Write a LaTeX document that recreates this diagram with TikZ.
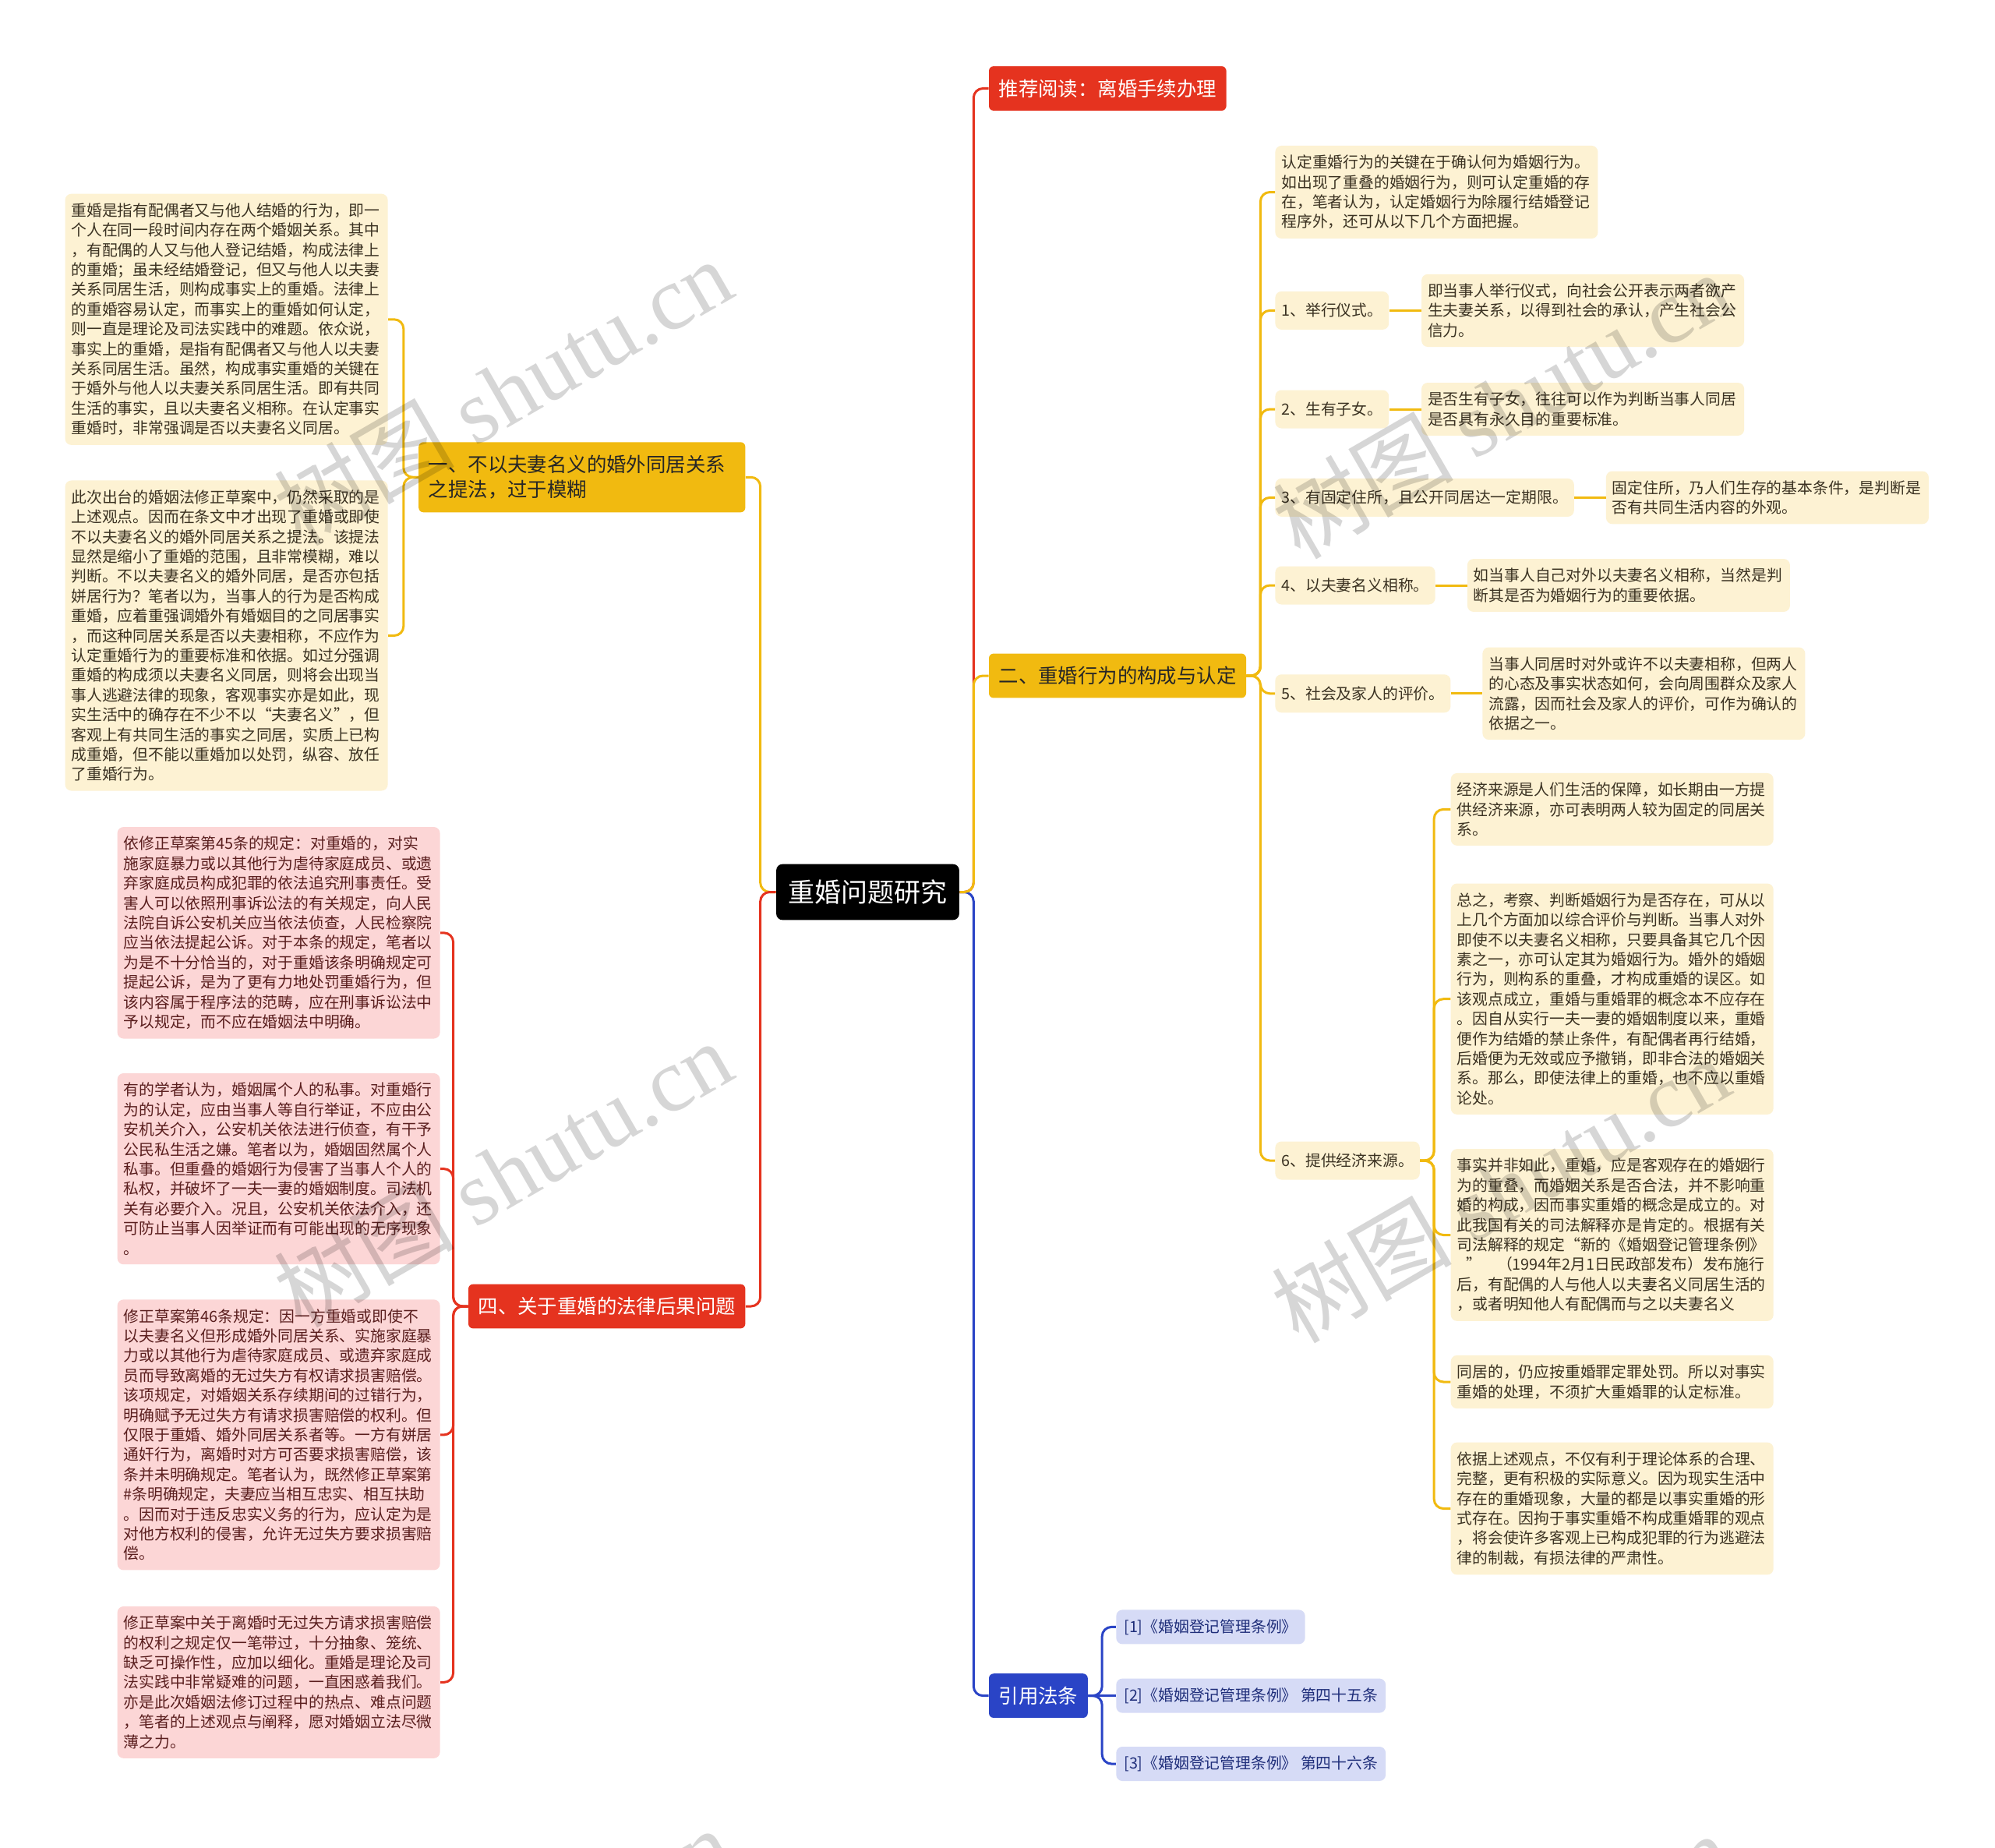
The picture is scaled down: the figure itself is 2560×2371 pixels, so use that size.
\documentclass[tikz,border=0pt]{standalone}
\usepackage{fontspec}
\setmainfont{Noto Sans CJK SC}
\newfontfamily\wmfont{Liberation Serif}
\usetikzlibrary{positioning}

\definecolor{redc}{HTML}{E5331F}
\definecolor{ylwc}{HTML}{F1BA10}
\definecolor{bluec}{HTML}{2A44C6}
\definecolor{cream}{HTML}{FDF2D3}
\definecolor{creamtext}{HTML}{3B3222}
\definecolor{pinkc}{HTML}{FCD6D6}
\definecolor{pinktext}{HTML}{5A1E1E}
\definecolor{refc}{HTML}{D6DBF6}
\definecolor{reftext}{HTML}{1F2E7A}

\newcommand\bodyfont{\fontsize{9.9}{12.7}\selectfont}
\newcommand\branchfont{\fontsize{12.7}{16.3}\selectfont}
\newcommand\rootfont{\fontsize{17}{20}\selectfont}

\begin{document}
\begin{tikzpicture}[x=0.5pt, y=-0.5pt,
  root/.style={fill=black, text=white, rounded corners=4pt, font=\rootfont, inner xsep=7.7pt, inner ysep=10pt},
  branch/.style={rounded corners=3pt, font=\branchfont, inner xsep=6.3pt, inner ysep=8.3pt},
  itemtag/.style={fill=cream, text=creamtext, rounded corners=4pt, font=\bodyfont, inner xsep=4pt, minimum height=24.5pt},
  note/.style={rounded corners=4pt, font=\bodyfont, text width=199pt, align=left, inner xsep=4pt, inner ysep=6pt},
  cnote/.style={note, fill=cream, text=creamtext},
  pnote/.style={note, fill=pinkc, text=pinktext},
  refitem/.style={fill=refc, text=reftext, rounded corners=4pt, font=\bodyfont, inner xsep=5pt, minimum height=22pt},
  link/.style={line width=1.5pt, rounded corners=6pt},
  wmk/.style={rotate=30, text=black, opacity=0.16, font=\fontsize{58}{58}\selectfont}]

  \useasboundingbox (0,0) rectangle (2560,2371);
  \fill[white] (0,0) rectangle (2560,2371);

  % Root
  \node[root] (root) at (1113.5,1144.5) {重婚问题研究};

  % Right branches
  \node[branch, fill=redc, text=white, anchor=west] (rec) at (1268.6,113.5) {推荐阅读：离婚手续办理};
  \node[branch, fill=ylwc, text=black!85, anchor=west] (b2) at (1268.6,867) {二、重婚行为的构成与认定};
  \node[branch, fill=bluec, text=white, anchor=west] (law) at (1268.6,2175.6) {引用法条};

  % Left branches
  \node[branch, fill=ylwc, text=black!85, anchor=east, text width=197pt, align=left] (b1) at (956.8,612.3)
    {一、不以夫妻名义的婚外同居关系\\之提法，过于模糊};
  \node[branch, fill=redc, text=white, anchor=east] (b4) at (956.8,1676) {四、关于重婚的法律后果问题};

  % Branch 2 items
  \node[cnote, anchor=west] (intro) at (1636,246.5)
    {认定重婚行为的关键在于确认何为婚姻行为。\\如出现了重叠的婚姻行为，则可认定重婚的存\\在，笔者认为，认定婚姻行为除履行结婚登记\\程序外，还可从以下几个方面把握。};
  \node[itemtag, anchor=west] (i1) at (1636,398.4) {1、举行仪式。};
  \node[itemtag, anchor=west] (i2) at (1636,525) {2、生有子女。};
  \node[itemtag, anchor=west] (i3) at (1636,638.4) {3、有固定住所，且公开同居达一定期限。};
  \node[itemtag, anchor=west] (i4) at (1636,751) {4、以夫妻名义相称。};
  \node[itemtag, anchor=west] (i5) at (1636,889.8) {5、社会及家人的评价。};
  \node[itemtag, anchor=west] (i6) at (1636,1489) {6、提供经济来源。};

  \node[cnote, anchor=west] (d1) at (1823.7,398.4)
    {即当事人举行仪式，向社会公开表示两者欲产\\生夫妻关系，以得到社会的承认，产生社会公\\信力。};
  \node[cnote, anchor=west] (d2) at (1823.7,525)
    {是否生有子女，往往可以作为判断当事人同居\\是否具有永久目的重要标准。};
  \node[cnote, anchor=west] (d3) at (2060.5,638.4)
    {固定住所，乃人们生存的基本条件，是判断是\\否有共同生活内容的外观。};
  \node[cnote, anchor=west] (d4) at (1882.5,751)
    {如当事人自己对外以夫妻名义相称，当然是判\\断其是否为婚姻行为的重要依据。};
  \node[cnote, anchor=west] (d5) at (1902,889.8)
    {当事人同居时对外或许不以夫妻相称，但两人\\的心态及事实状态如何，会向周围群众及家人\\流露，因而社会及家人的评价，可作为确认的\\依据之一。};

  % Item 6 notes
  \node[cnote, anchor=west] (e1) at (1861.3,1038.4)
    {经济来源是人们生活的保障，如长期由一方提\\供经济来源，亦可表明两人较为固定的同居关\\系。};
  \node[cnote, anchor=west] (e2) at (1861.3,1281.7)
    {总之，考察、判断婚姻行为是否存在，可从以\\上几个方面加以综合评价与判断。当事人对外\\即使不以夫妻名义相称，只要具备其它几个因\\素之一，亦可认定其为婚姻行为。婚外的婚姻\\行为，则构系的重叠，才构成重婚的误区。如\\该观点成立，重婚与重婚罪的概念本不应存在\\。因自从实行一夫一妻的婚姻制度以来，重婚\\便作为结婚的禁止条件，有配偶者再行结婚，\\后婚便为无效或应予撤销，即非合法的婚姻关\\系。那么，即使法律上的重婚，也不应以重婚\\论处。};
  \node[cnote, anchor=west] (e3) at (1861.3,1584.5)
    {事实并非如此，重婚，应是客观存在的婚姻行\\为的重叠，而婚姻关系是否合法，并不影响重\\婚的构成，因而事实重婚的概念是成立的。对\\此我国有关的司法解释亦是肯定的。根据有关\\司法解释的规定“新的《婚姻登记管理条例》\\\hspace*{0.6em}”\hspace*{1em}（1994年2月1日民政部发布）发布施行\\后，有配偶的人与他人以夫妻名义同居生活的\\，或者明知他人有配偶而与之以夫妻名义};
  \node[cnote, anchor=west] (e4) at (1861.3,1773)
    {同居的，仍应按重婚罪定罪处罚。所以对事实\\重婚的处理，不须扩大重婚罪的认定标准。};
  \node[cnote, anchor=west] (e5) at (1861.3,1935.5)
    {依据上述观点，不仅有利于理论体系的合理、\\完整，更有积极的实际意义。因为现实生活中\\存在的重婚现象，大量的都是以事实重婚的形\\式存在。因拘于事实重婚不构成重婚罪的观点\\，将会使许多客观上已构成犯罪的行为逃避法\\律的制裁，有损法律的严肃性。};

  % References
  \node[refitem, anchor=west] (r1) at (1431.9,2087.4) {[1]《婚姻登记管理条例》};
  \node[refitem, anchor=west] (r2) at (1431.9,2175.6) {[2]《婚姻登记管理条例》 第四十五条};
  \node[refitem, anchor=west] (r3) at (1431.9,2263) {[3]《婚姻登记管理条例》 第四十六条};

  % Branch 1 notes
  \node[cnote, anchor=east] (l1) at (498,409.8)
    {重婚是指有配偶者又与他人结婚的行为，即一\\个人在同一段时间内存在两个婚姻关系。其中\\，有配偶的人又与他人登记结婚，构成法律上\\的重婚；虽未经结婚登记，但又与他人以夫妻\\关系同居生活，则构成事实上的重婚。法律上\\的重婚容易认定，而事实上的重婚如何认定，\\则一直是理论及司法实践中的难题。依众说，\\事实上的重婚，是指有配偶者又与他人以夫妻\\关系同居生活。虽然，构成事实重婚的关键在\\于婚外与他人以夫妻关系同居生活。即有共同\\生活的事实，且以夫妻名义相称。在认定事实\\重婚时，非常强调是否以夫妻名义同居。};
  \node[cnote, anchor=east] (l2) at (498,815.5)
    {此次出台的婚姻法修正草案中，仍然采取的是\\上述观点。因而在条文中才出现了重婚或即使\\不以夫妻名义的婚外同居关系之提法。该提法\\显然是缩小了重婚的范围，且非常模糊，难以\\判断。不以夫妻名义的婚外同居，是否亦包括\\姘居行为？笔者以为，当事人的行为是否构成\\重婚，应着重强调婚外有婚姻目的之同居事实\\，而这种同居关系是否以夫妻相称，不应作为\\认定重婚行为的重要标准和依据。如过分强调\\重婚的构成须以夫妻名义同居，则将会出现当\\事人逃避法律的现象，客观事实亦是如此，现\\实生活中的确存在不少不以“夫妻名义”，但\\客观上有共同生活的事实之同居，实质上已构\\成重婚，但不能以重婚加以处罚，纵容、放任\\了重婚行为。};

  % Branch 4 notes
  \node[pnote, anchor=east] (p1) at (565,1196.8)
    {依修正草案第45条的规定：对重婚的，对实\\施家庭暴力或以其他行为虐待家庭成员、或遗\\弃家庭成员构成犯罪的依法追究刑事责任。受\\害人可以依照刑事诉讼法的有关规定，向人民\\法院自诉公安机关应当依法侦查，人民检察院\\应当依法提起公诉。对于本条的规定，笔者以\\为是不十分恰当的，对于重婚该条明确规定可\\提起公诉，是为了更有力地处罚重婚行为，但\\该内容属于程序法的范畴，应在刑事诉讼法中\\予以规定，而不应在婚姻法中明确。};
  \node[pnote, anchor=east] (p2) at (565,1499.6)
    {有的学者认为，婚姻属个人的私事。对重婚行\\为的认定，应由当事人等自行举证，不应由公\\安机关介入，公安机关依法进行侦查，有干予\\公民私生活之嫌。笔者以为，婚姻固然属个人\\私事。但重叠的婚姻行为侵害了当事人个人的\\私权，并破坏了一夫一妻的婚姻制度。司法机\\关有必要介入。况且，公安机关依法介入，还\\可防止当事人因举证而有可能出现的无序现象\\。};
  \node[pnote, anchor=east] (p3) at (565,1840.9)
    {修正草案第46条规定：因一方重婚或即使不\\以夫妻名义但形成婚外同居关系、实施家庭暴\\力或以其他行为虐待家庭成员、或遗弃家庭成\\员而导致离婚的无过失方有权请求损害赔偿。\\该项规定，对婚姻关系存续期间的过错行为，\\明确赋予无过失方有请求损害赔偿的权利。但\\仅限于重婚、婚外同居关系者等。一方有姘居\\通奸行为，离婚时对方可否要求损害赔偿，该\\条并未明确规定。笔者认为，既然修正草案第\\\#条明确规定，夫妻应当相互忠实、相互扶助\\。因而对于违反忠实义务的行为，应认定为是\\对他方权利的侵害，允许无过失方要求损害赔\\偿。};
  \node[pnote, anchor=east] (p4) at (565,2158.4)
    {修正草案中关于离婚时无过失方请求损害赔偿\\的权利之规定仅一笔带过，十分抽象、笼统、\\缺乏可操作性，应加以细化。重婚是理论及司\\法实践中非常疑难的问题，一直困惑着我们。\\亦是此次婚姻法修订过程中的热点、难点问题\\，笔者的上述观点与阐释，愿对婚姻立法尽微\\薄之力。};

  % Connectors from the root
  \draw[link, redc] (root.east) -- ++(18,0) |- (rec.west);
  \draw[link, bluec] (root.east) -- ++(18,0) |- (law.west);
  \draw[link, ylwc] (root.east) -- ++(18,0) |- (b2.west);
  \draw[link, ylwc] (root.west) -- ++(-20,0) |- (b1.east);
  \draw[link, redc] (root.west) -- ++(-20,0) |- (b4.east);

  % Connectors inside the branches
  \foreach \n in {intro,i1,i2,i3,i4,i5,i6}
    \draw[link, ylwc] (b2.east) -- ++(18,0) |- (\n.west);
  \foreach \a/\b in {i1/d1,i2/d2,i3/d3,i4/d4,i5/d5}
    \draw[link, ylwc] (\a.east) -- (\b.west);
  \foreach \n in {e1,e2,e3,e4,e5}
    \draw[link, ylwc] (i6.east) -- ++(18,0) |- (\n.west);
  \foreach \n in {r1,r3}
    \draw[link, bluec] (law.east) -- ++(18,0) |- (\n.west);
  \draw[link, bluec] (law.east) -- (r2.west);
  \foreach \n in {l1,l2}
    \draw[link, ylwc] (b1.west) -- ++(-19,0) |- (\n.east);
  \foreach \n in {p1,p2,p3,p4}
    \draw[link, redc] (b4.west) -- ++(-19,0) |- (\n.east);

  % Watermarks
  \begin{scope}
    \clip (0,0) rectangle (2560,2371);
    \foreach \x/\y in {645/502, 645/1505, 1927/519, 1925/1525, 645/2515, 1927/2522}
      \node[wmk] at (\x,\y) {树图 {\wmfont shutu.cn}};
  \end{scope}

\end{tikzpicture}
\end{document}
